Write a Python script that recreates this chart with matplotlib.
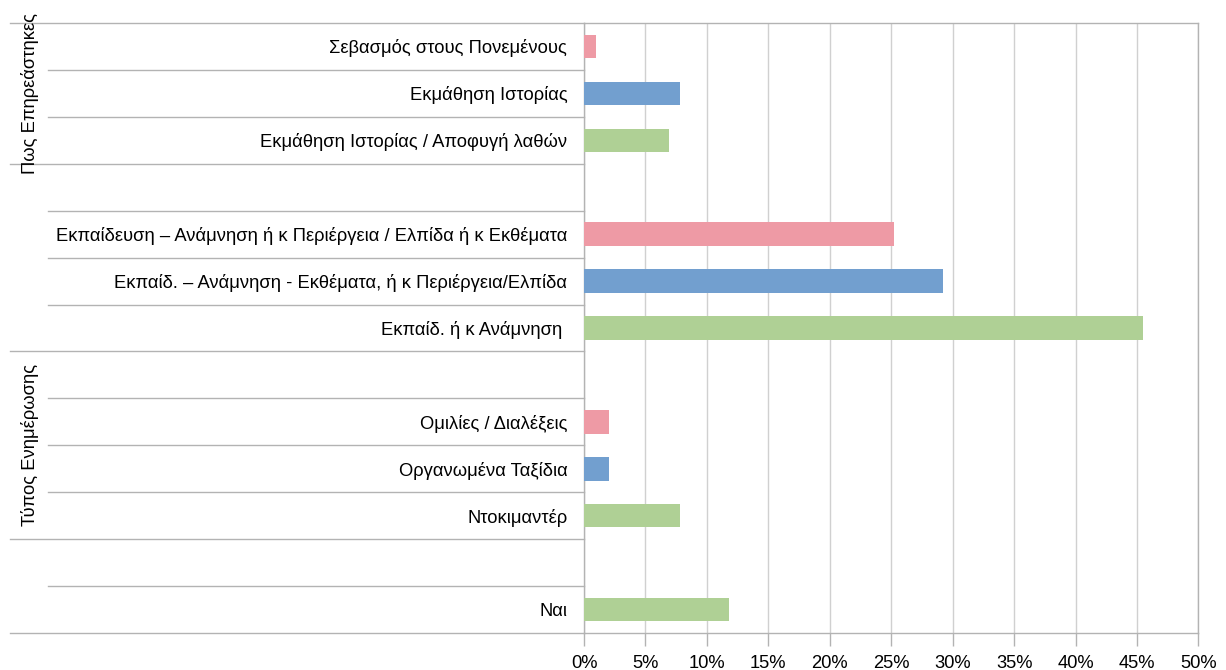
import matplotlib.pyplot as plt
import matplotlib.transforms as mtransforms
from matplotlib.lines import Line2D
import numpy as np

plt.rcParams['font.family'] = ['Liberation Sans', 'DejaVu Sans']

# --- DATA ---
categories = [
    "Σεβασμός στους Πονεμένους",
    "Εκμάθηση Ιστορίας",
    "Εκμάθηση Ιστορίας / Αποφυγή λαθών",
    "",
    "Εκπαίδευση – Ανάμνηση ή κ Περιέργεια / Ελπίδα ή κ Εκθέματα",
    "Εκπαίδ. – Ανάμνηση - Εκθέματα, ή κ Περιέργεια/Ελπίδα",
    "Εκπαίδ. ή κ Ανάμνηση ",
    "",
    "Ομιλίες / Διαλέξεις",
    "Οργανωμένα Ταξίδια",
    "Ντοκιμαντέρ",
    "",
    "Ναι",
]
values = [1.0, 7.8, 6.9, np.nan, 25.2, 29.2, 45.5, np.nan, 2.0, 2.0, 7.8, np.nan, 11.8]
series_idx = [0, 1, 2, None, 0, 1, 2, None, 0, 1, 2, None, 2]

# groups: (label, first row, last row)
group_labels = ["Πως Επηρεάστηκες", "", "Τύπος Ενημέρωσης", ""]
group_starts = [0, 3, 7, 11]
group_ends = [2, 6, 10, 12]

x_ticks = list(range(0, 55, 5))
x_ticklabels = [f"{t}%" for t in x_ticks]

series_colors = ['#ee9aa5', '#729fcf', '#afd095']

# --- FIGURE ---
W, H = 1226, 670
FS = 13.2
fig = plt.figure(figsize=(W / 100, H / 100), dpi=100)
ax = fig.add_axes([584 / W, 1 - 633 / H, (1198.5 - 584) / W, (633 - 23) / H])

rows = np.arange(len(categories))
colors = [series_colors[s] if s is not None else 'none' for s in series_idx]
vals = [0 if np.isnan(v) else v for v in values]
ax.barh(rows, vals, height=0.5, color=colors, zorder=3)

ax.set_xlim(0, 50)
ax.set_ylim(len(categories) - 0.5, -0.5)
ax.set_xticks(x_ticks)
ax.set_xticklabels(x_ticklabels, fontsize=FS)
ax.set_yticks(rows)
ax.set_yticklabels(categories, fontsize=FS)
ax.tick_params(axis='y', length=0, pad=12)
ax.tick_params(axis='x', length=9, width=1, color='#b3b3b3', pad=7)

ax.grid(axis='x', color='#d0d0d0', linewidth=1, zorder=0)
for s in ['top', 'right', 'bottom', 'left']:
    ax.spines[s].set_color('#b3b3b3')
    ax.spines[s].set_linewidth(1)

# category separators (multi-level axis)
trans = mtransforms.blended_transform_factory(fig.transFigure, ax.transData)
group_bounds = set([s - 0.5 for s in group_starts] + [e + 0.5 for e in group_ends])
for b in np.arange(-0.5, len(categories), 1.0):
    x0 = 10 / W if b in group_bounds else 48 / W
    fig.add_artist(Line2D([x0, 584 / W], [b, b], transform=trans,
                          color='#b3b3b3', linewidth=1))

for lab, s, e in zip(group_labels, group_starts, group_ends):
    if lab:
        fig.text(30 / W, (s + e) / 2, lab, transform=trans, rotation=90,
                 fontsize=FS, ha='center', va='center')

fig.savefig('out.png', dpi=100)
